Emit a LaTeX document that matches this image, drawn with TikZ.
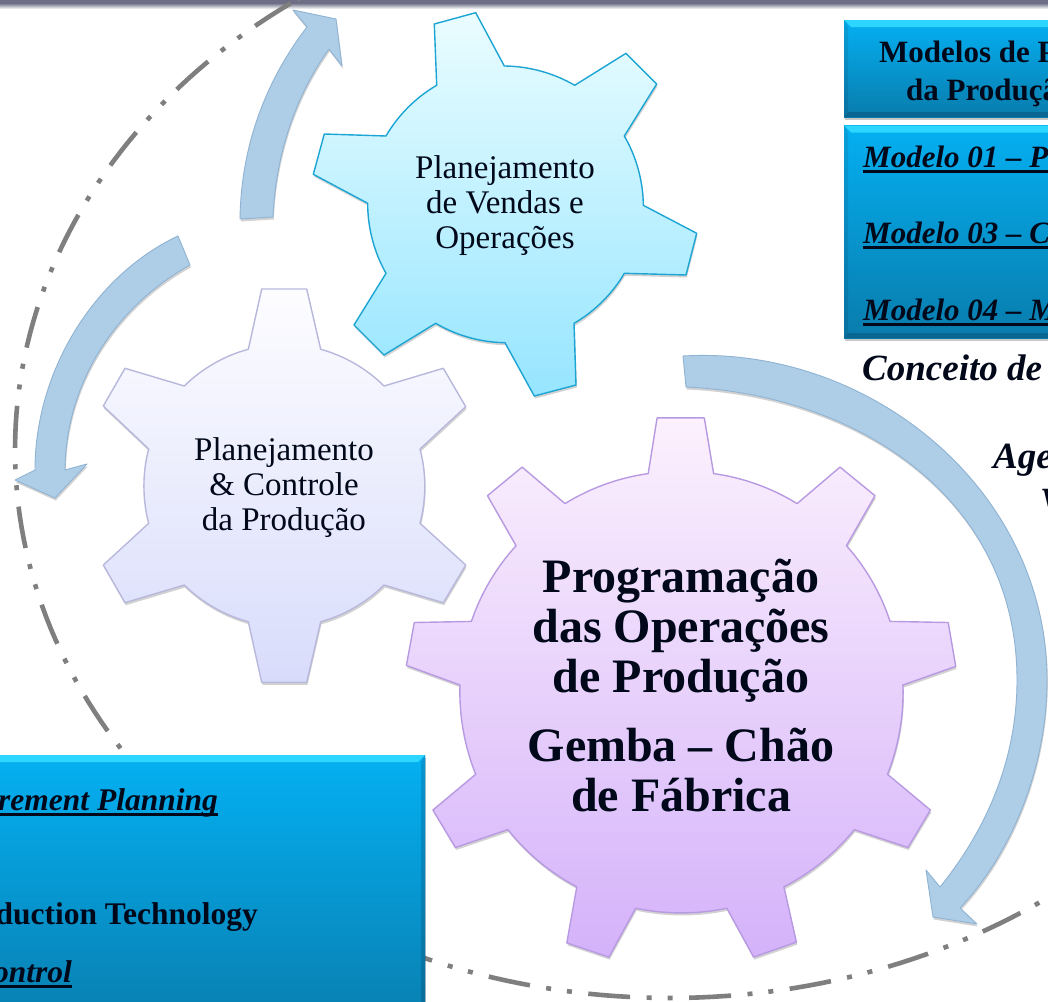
\documentclass[tikz,border=0pt]{standalone}
\usepackage{fontspec}
\usetikzlibrary{shadows}
\newfontfamily\tnr{Liberation Serif}
\definecolor{inkc}{HTML}{00081A}
\definecolor{arrowfill}{HTML}{AECDE7}
\definecolor{arrowline}{HTML}{8FB3D3}
\newsavebox{\ulbox}
\newcommand{\thickul}[1]{\sbox{\ulbox}{#1}\rlap{\usebox{\ulbox}}\rule[-5.5pt]{\wd\ulbox}{2.2pt}}
\tikzset{
  softshadow/.style={drop shadow={shadow xshift=0.8pt,shadow yshift=-2.5pt,opacity=.25,fill=black!70}},
  arc30/.style={bend left=15,looseness=.85},
  arc24/.style={bend left=12,looseness=.85},
  tealgear/.style={softshadow,draw={rgb,255:red,28;green,165;blue,212},line width=1.4pt,line join=round,top color={rgb,255:red,234;green,253;blue,255},bottom color={rgb,255:red,150;green,229;blue,255}},
  greygear/.style={softshadow,draw={rgb,255:red,184;green,184;blue,220},line width=1.4pt,line join=round,top color={rgb,255:red,253;green,253;blue,255},bottom color={rgb,255:red,216;green,220;blue,251}},
  purplegear/.style={softshadow,draw={rgb,255:red,184;green,154;blue,226},line width=1.4pt,line join=round,top color={rgb,255:red,252;green,241;blue,253},bottom color={rgb,255:red,212;green,178;blue,250}},
  bluearrow/.style={softshadow,draw=arrowline,line width=.9pt,fill=arrowfill,line join=round},
  geartext/.style={font=\tnr\fontsize{33}{35}\selectfont,text=inkc,inner sep=0pt,align=center,anchor=base},
  progtext/.style={font=\tnr\bfseries\fontsize{48}{50}\selectfont,text=inkc,inner sep=0pt,align=center,anchor=base},
  boxtext/.style={font=\tnr\bfseries\fontsize{31}{38}\selectfont,text=inkc,inner sep=0pt,anchor=base west},
  boxitalic/.style={font=\tnr\bfseries\itshape\fontsize{31}{38}\selectfont,text=inkc,inner sep=0pt,anchor=base west},
  freeitalic/.style={font=\tnr\bfseries\itshape\fontsize{37}{38}\selectfont,text=inkc,inner sep=0pt,anchor=base west},
  boxtextr/.style={font=\tnr\bfseries\fontsize{31.5}{38}\selectfont,text=inkc,inner sep=0pt,anchor=base east},
  boxitalicr/.style={font=\tnr\bfseries\itshape\fontsize{31.5}{38}\selectfont,text=inkc,inner sep=0pt,anchor=base east},
  orbit/.style={draw={rgb,255:red,127;green,127;blue,127},line width=4.6pt,dash pattern=on 42pt off 16.5pt on 5pt off 16pt on 5pt off 16.5pt},
}
% bevelled box: x1 y1 x2 y2
\newcommand{\bevelbox}[4]{%
  \path[drop shadow={shadow xshift=1pt,shadow yshift=-3pt,opacity=.3,fill=black!70},top color={rgb,255:red,4;green,176;blue,242},bottom color={rgb,255:red,9;green,124;blue,172}] (#1,#2) rectangle (#3,#4);
  \fill[color={rgb,255:red,44;green,214;blue,255}] (#1,#2) -- (#3,#2) -- ({#3-7},{#2+7}) -- ({#1+7},{#2+7}) -- cycle;
  \path[top color={rgb,255:red,8;green,160;blue,220},bottom color={rgb,255:red,8;green,112;blue,158}] (#1,#2) -- ({#1+4},{#2+7}) -- ({#1+4},{#4-5}) -- (#1,#4) -- cycle;
  \path[top color={rgb,255:red,8;green,150;blue,210},bottom color={rgb,255:red,8;green,104;blue,148}] (#3,#2) -- ({#3-4},{#2+7}) -- ({#3-4},{#4-5}) -- (#3,#4) -- cycle;
  \fill[color={rgb,255:red,9;green,102;blue,146}] (#1,#4) -- ({#1+4},{#4-5}) -- ({#3-4},{#4-5}) -- (#3,#4) -- cycle;
}
\begin{document}
\begin{tikzpicture}[x=1pt,y=-1pt]
\useasboundingbox (0,0) rectangle (1048,1001);
\clip (0,0) rectangle (1048,1001);
% top band
\fill[white] (0,0) rectangle (1048,1001);
\shade[top color={rgb,255:red,110;green,110;blue,135},bottom color=white] (0,3) rectangle (1048,9);
\fill[color={rgb,255:red,110;green,110;blue,135}] (0,0) rectangle (1048,3);
% dash-dot-dot orbit
\draw[orbit] plot[domain=234.6:-126,samples=300,variable=\t] ({670+655*cos(\t)},{450+548*sin(\t)});
% lower left box
\bevelbox{-20}{755}{425}{1040}
\node[boxitalicr] (t1) at (218,810) {\thickul{rement Planning}};
\node[boxtextr] (t2) at (258,924) {duction Technology};
\node[boxitalicr] (t3) at (72,982) {\thickul{ontrol}};
% upper right boxes
\bevelbox{844}{20}{1080}{117}
\bevelbox{844}{125.5}{1080}{338}
\node[boxtext] (m1) at (879,62) {Modelos de P};
\node[boxtext] (m2) at (906,100) {da Produçã};
\node[boxitalic] (m3) at (863,167) {\thickul{Modelo 01 – P}};
\node[boxitalic] (m4) at (863,243) {\thickul{Modelo 03 – C}};
\node[boxitalic] (m5) at (863,320) {\thickul{Modelo 04 – M}};
\node[freeitalic] (c1) at (862,380) {Conceito de};
\node[freeitalic] (c2) at (993,468) {Age};
\node[freeitalic] (c3) at (1040,513) {V};
% arrows
\path[bluearrow] (240,219) .. controls (241,140) and (270,75) .. (307,27) -- (293,10) -- (336,19) -- (342,66) -- (329,49) .. controls (298,92) and (276,150) .. (273,217) -- cycle;
\path[bluearrow] (178,236) .. controls (95,275) and (35,370) .. (35,470) -- (15,480) -- (55,498) -- (87,464) -- (65,470) .. controls (66,380) and (118,305) .. (190,265) -- cycle;
\path[bluearrow] (683,356) .. controls (870,345) and (1047,490) .. (1047,680) .. controls (1047,770) and (1010,855) .. (960,908) -- (977,924) -- (933,917) -- (926,870) -- (940,887) .. controls (990,825) and (1017,755) .. (1017,680) .. controls (1017,500) and (860,395) .. (686,387) -- cycle;
% teal gear
\path[tealgear] (434.3,24) -- (475.7,12.7) -- (504.3,66) to[arc30] (574.7,85.3) -- (626,53.3) -- (656.7,84) -- (624.3,136) to[arc30] (643.3,205.3) -- (696.7,233.3) -- (686,275) -- (624.3,273.3) to[arc30] (574,323.3) -- (576,385) -- (534.3,396) -- (505,342.7) to[arc30] (435.7,323.3) -- (384,355) -- (354,325) -- (386,273.3) to[arc30] (367.7,203.3) -- (313.3,174.3) -- (324.3,134) -- (386,136) to[arc30] (436.7,85.3) -- cycle;
% grey gear
\path[greygear] (261.7,289) -- (306.7,289) -- (320.7,349.3) to[arc30] (384,386) -- (443.3,368.3) -- (465.7,406.7) -- (420,449) to[arc30] (420,523.3) -- (465.7,565) -- (443.3,602.7) -- (384,585) to[arc30] (320.7,621.7) -- (306.7,682.3) -- (261.7,682.3) -- (248.3,621.7) to[arc30] (184.3,585) -- (125,602.7) -- (103.3,565) -- (148.7,523.3) to[arc30] (148.7,449) -- (103.3,406) -- (125,368.3) -- (184.3,386) to[arc30] (248.3,349.3) -- cycle;
% purple gear
\path[purplegear] (657.1,417.9) -- (704.3,417.9) -- (713.6,473.6) to[arc24] (797.1,503.6) -- (840,467.1) -- (875,495.7) -- (846.4,545.7) to[arc24] (890,621.4) -- (948.2,622.5) -- (955.7,666.4) -- (902.9,685) to[arc24] (887.5,774.3) -- (930.4,810) -- (907.9,847.5) -- (854.3,829.6) to[arc24] (783.9,886.8) -- (796.4,942.1) -- (753.6,957.1) -- (726.8,908.2) to[arc24] (635.7,908.2) -- (608.9,957.1) -- (566.8,942.9) -- (576.8,886.8) to[arc24] (507.9,829.6) -- (455.4,847.5) -- (432.9,810) -- (475.7,774.3) to[arc24] (460,685) -- (406.4,665.4) -- (414.3,622.5) -- (471.4,621.4) to[arc24] (516.1,545.7) -- (487.5,495.7) -- (522.1,467.1) -- (565,503.6) to[arc24] (648.2,473.6) -- cycle;
% gear labels
\node[geartext] (gv) at (505,248) {Planejamento\\de Vendas e\\Operações};
\node[geartext] (gp) at (284,530) {Planejamento\\\& Controle\\da Produção};
\node[progtext] (gm) at (681,692) {Programação\\das Operações\\de Produção};
\node[progtext] (gf) at (681,811) {Gemba – Chão\\de Fábrica};
\end{tikzpicture}
\end{document}
